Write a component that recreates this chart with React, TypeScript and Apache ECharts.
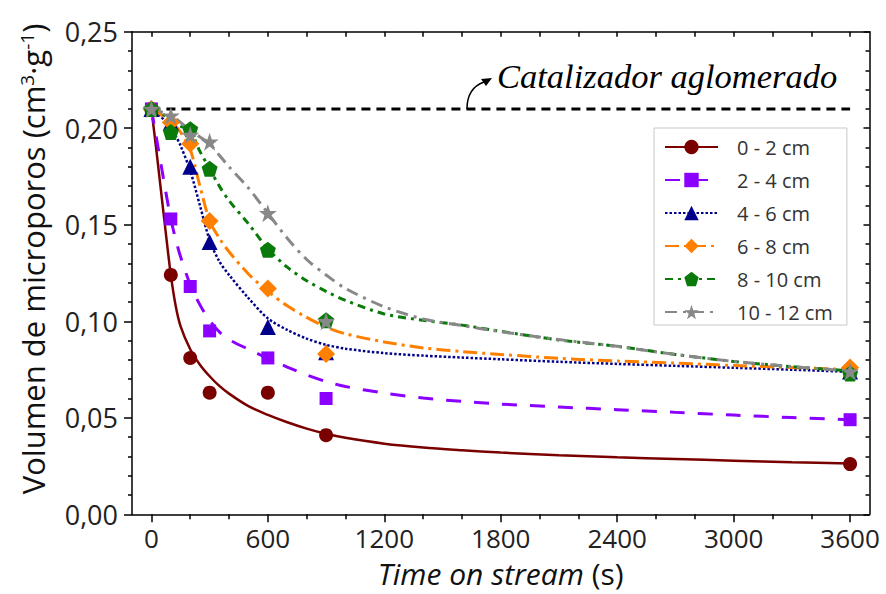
import React, { useEffect, useRef } from "react";
import * as echarts from "echarts";

// ---------- data ----------
const sampleTimes = [0, 100, 200, 300, 600, 900, 3600];
const samp02 = [0.21, 0.124, 0.081, 0.063, 0.063, 0.041, 0.026];
const samp24 = [0.21, 0.153, 0.118, 0.095, 0.081, 0.06, 0.049];
const samp46 = [0.21, 0.203, 0.18, 0.141, 0.097, 0.084, 0.074];
const samp68 = [0.21, 0.203, 0.192, 0.152, 0.117, 0.083, 0.076];
const samp810 = [0.21, 0.198, 0.1995, 0.179, 0.137, 0.1005, 0.073];
const samp1012 = [0.21, 0.2065, 0.1965, 0.193, 0.156, 0.1, 0.074];

const fitTimes = [0, 25, 50, 75, 100, 125, 150, 200, 250, 300, 350, 400, 500, 600, 700, 800, 900, 1000, 1200, 1400, 1600, 1800, 2100, 2400, 2700, 3000, 3300, 3600];
const fit02 = [0.21, 0.189, 0.167, 0.145, 0.124, 0.108, 0.0975, 0.0855, 0.0775, 0.0715, 0.0665, 0.0625, 0.056, 0.0515, 0.0477, 0.0444, 0.0417, 0.0396, 0.0366, 0.0346, 0.0332, 0.032, 0.0306, 0.0295, 0.0286, 0.0278, 0.027, 0.0263];
const fit24 = [0.21, 0.1955, 0.181, 0.1665, 0.153, 0.1425, 0.1335, 0.119, 0.1085, 0.1005, 0.0945, 0.0905, 0.0855, 0.0808, 0.0763, 0.0722, 0.0688, 0.0662, 0.0628, 0.0602, 0.0585, 0.0571, 0.0556, 0.0542, 0.0528, 0.0514, 0.0501, 0.049];
const fit46 = [0.21, 0.2085, 0.206, 0.203, 0.2, 0.196, 0.191, 0.178, 0.16, 0.142, 0.131, 0.124, 0.112, 0.1015, 0.0955, 0.091, 0.0878, 0.0858, 0.0835, 0.0822, 0.0812, 0.0803, 0.079, 0.0779, 0.0769, 0.0759, 0.0749, 0.0738];
const fit68 = [0.21, 0.209, 0.207, 0.205, 0.203, 0.201, 0.198, 0.189, 0.17, 0.152, 0.143, 0.136, 0.1245, 0.1155, 0.108, 0.102, 0.097, 0.0935, 0.0893, 0.0862, 0.0843, 0.0828, 0.0808, 0.0794, 0.0783, 0.0771, 0.076, 0.075];
const fit810 = [0.21, 0.2095, 0.208, 0.206, 0.204, 0.2025, 0.201, 0.1985, 0.188, 0.179, 0.17, 0.1625, 0.1505, 0.1375, 0.128, 0.121, 0.1155, 0.1108, 0.1038, 0.1005, 0.098, 0.0948, 0.0903, 0.087, 0.0828, 0.0792, 0.0765, 0.0743];
const fit1012 = [0.21, 0.2095, 0.2085, 0.2075, 0.2065, 0.205, 0.203, 0.199, 0.1955, 0.192, 0.186, 0.18, 0.169, 0.156, 0.143, 0.132, 0.124, 0.117, 0.1075, 0.1012, 0.0978, 0.0946, 0.0905, 0.087, 0.0828, 0.0792, 0.0765, 0.0743];

const catalystTimes = [0, 3600];
const catalystValue = 0.21;

const seriesNames = ["0 - 2 cm", "2 - 4 cm", "4 - 6 cm", "6 - 8 cm", "8 - 10 cm", "10 - 12 cm"];
const xMajorTicks = [0, 600, 1200, 1800, 2400, 3000, 3600];
const xMinorTicks = [200, 400, 800, 1000, 1400, 1600, 2000, 2200, 2600, 2800, 3200, 3400];
const xAllTicks = [0, 200, 400, 600, 800, 1000, 1200, 1400, 1600, 1800, 2000, 2200, 2400, 2600, 2800, 3000, 3200, 3400, 3600];

const PENTAGON = "path://M50,0 L97.6,34.5 L79.4,90.5 L20.6,90.5 L2.4,34.5 Z";
const STAR = "path://M50,0 L61.8,35.1 L98.9,35.5 L69.1,57.7 L80.3,93.1 L50,71.7 L19.7,93.1 L30.9,57.7 L1.1,35.5 L38.2,35.1 Z";

const FONT = "'Open Sans', 'Noto Sans', sans-serif";

const styles = [
  { color: "#7a0000", symbol: "circle", size: 14, width: 2.5, dash: "solid" as any },
  { color: "#8b00ff", symbol: "rect", size: 13, width: 3, dash: [15, 13] },
  { color: "#00008b", symbol: "triangle", size: 16, width: 2.5, dash: [2.5, 2] },
  { color: "#ff8000", symbol: "diamond", size: 18, width: 3, dash: [14, 5, 3, 5] },
  { color: "#0a7a0a", symbol: PENTAGON, size: 16, width: 3, dash: [8, 5, 3, 5] },
  { color: "#888888", symbol: STAR, size: 18, width: 3, dash: [12, 6, 3, 6] },
];

export default function App() {
  const ref = useRef<HTMLDivElement>(null);
  useEffect(() => {
    if (!ref.current) return;
    const chart = echarts.init(ref.current, undefined, { renderer: "svg" });
    const fits = [fit02, fit24, fit46, fit68, fit810, fit1012];
    const samps = [samp02, samp24, samp46, samp68, samp810, samp1012];

    const series: any[] = [
      {
        name: "Catalizador aglomerado",
        type: "line",
        data: catalystTimes.map((t) => [t, catalystValue]),
        showSymbol: false,
        symbol: "none",
        lineStyle: { color: "#000", width: 3, type: [9, 6] },
        z: 1,
        silent: true,
      },
    ];
    seriesNames.forEach((name, i) => {
      const s = styles[i];
      series.push({
        name,
        type: "line",
        data: fitTimes.map((t, j) => [t, fits[i][j]]),
        symbol: s.symbol,
        symbolSize: s.size,
        showSymbol: false,
        smooth: 0.3,
        itemStyle: { color: s.color },
        lineStyle: { color: s.color, width: s.width, type: s.dash },
        z: 2 + i,
      });
    });
    seriesNames.forEach((name, i) => {
      const s = styles[i];
      series.push({
        name,
        type: "scatter",
        data: sampleTimes.map((t, j) => [t, samps[i][j]]),
        symbol: s.symbol,
        symbolSize: s.size,
        itemStyle: { color: s.color, opacity: 1 },
        z: 10 + i,
      });
    });

    const axisLineStyle = { color: "#000", width: 1.5 };
    const labelStyle = { fontSize: 26, fontFamily: FONT, color: "#222" };

    chart.setOption({
      animation: false,
      backgroundColor: "#fff",
      grid: { left: 132, right: 16.5, top: 31.7, bottom: 79.7, outerBoundsMode: "none", containLabel: false },
      legend: {
        orient: "vertical",
        left: 654,
        top: 128,
        padding: [9, 14, 3, 10],
        itemWidth: 53,
        itemHeight: 18,
        itemGap: 13,
        backgroundColor: "#fff",
        borderColor: "#c8c8c8",
        borderWidth: 1,
        data: seriesNames,
        textStyle: { fontSize: 20, fontFamily: FONT, color: "#333", padding: [0, 0, 0, 14] },
      },
      xAxis: [
        {
          type: "value",
          min: -100,
          max: 3700,
          position: "bottom",
          axisLine: { show: true, onZero: false, lineStyle: axisLineStyle },
          axisTick: { show: true, inside: false, length: 8, customValues: xMajorTicks, lineStyle: axisLineStyle },
          axisLabel: { customValues: xMajorTicks, margin: 11, formatter: (v: number) => String(v), ...labelStyle },
          splitLine: { show: false },
          name: "{it|Time on stream} (s)",
          nameLocation: "middle",
          nameGap: 44,
          nameTextStyle: {
            fontSize: 30,
            fontFamily: FONT,
            color: "#111",
            lineHeight: 30,
            rich: { it: { fontSize: 30, fontStyle: "italic", fontFamily: FONT, color: "#111", lineHeight: 30 } },
          },
        },
        {
          type: "value",
          min: -100,
          max: 3700,
          position: "bottom",
          axisLine: { show: false, onZero: false },
          axisTick: { show: true, inside: false, length: 5, customValues: xMinorTicks, lineStyle: axisLineStyle },
          axisLabel: { show: false },
          splitLine: { show: false },
        },
        {
          type: "value",
          min: -100,
          max: 3700,
          position: "top",
          axisLine: { show: true, onZero: false, lineStyle: axisLineStyle },
          axisTick: { show: true, inside: true, length: 5, customValues: xAllTicks, lineStyle: axisLineStyle },
          axisLabel: { show: false },
          splitLine: { show: false },
        },
      ],
      yAxis: [
        {
          type: "value",
          min: 0,
          max: 0.25,
          interval: 0.05,
          position: "left",
          axisLine: { show: true, onZero: false, lineStyle: axisLineStyle },
          axisTick: { show: true, inside: false, length: 8, lineStyle: axisLineStyle },
          minorTick: { show: true, splitNumber: 5, length: 4, lineStyle: axisLineStyle },
          axisLabel: {
            margin: 14,
            formatter: (v: number) => v.toFixed(2).replace(".", ","),
            ...labelStyle,
            fontSize: 27,
          },
          splitLine: { show: false },
          name: "Volumen de microporos (cm{sup|3}·g{sup|-1})",
          nameLocation: "middle",
          nameGap: 84,
          nameTextStyle: {
            fontSize: 31,
            fontFamily: FONT,
            color: "#111",
            padding: [0, 0, 0, 28],
            rich: { sup: { fontSize: 19, fontFamily: FONT, color: "#111", verticalAlign: "top" } },
          },
        },
        {
          type: "value",
          min: 0,
          max: 0.25,
          interval: 0.05,
          position: "right",
          axisLine: { show: true, onZero: false, lineStyle: axisLineStyle },
          axisTick: { show: true, inside: true, length: 6, lineStyle: axisLineStyle },
          minorTick: { show: true, splitNumber: 5, length: 4, lineStyle: axisLineStyle },
          axisLabel: { show: false },
          splitLine: { show: false },
        },
      ],
      graphic: [
        {
          type: "text",
          left: 497,
          top: 58,
          style: {
            text: "Catalizador aglomerado",
            font: "italic 34.5px 'Liberation Serif', 'DejaVu Serif', serif",
            fill: "#000",
          },
          z: 100,
        },
        {
          type: "bezierCurve",
          shape: { x1: 467, y1: 109, cpx1: 467, cpy1: 88, x2: 484, y2: 82 },
          style: { stroke: "#000", lineWidth: 1.5, fill: "none" },
          z: 100,
        },
        {
          type: "polygon",
          shape: { points: [[492, 78], [481, 79], [486, 86]] },
          style: { fill: "#000" },
          z: 100,
        },
      ],
      series,
    });
    return () => chart.dispose();
  }, []);
  return <div ref={ref} style={{ position: "fixed", left: 0, top: 0, width: 886, height: 594 }} />;
}
